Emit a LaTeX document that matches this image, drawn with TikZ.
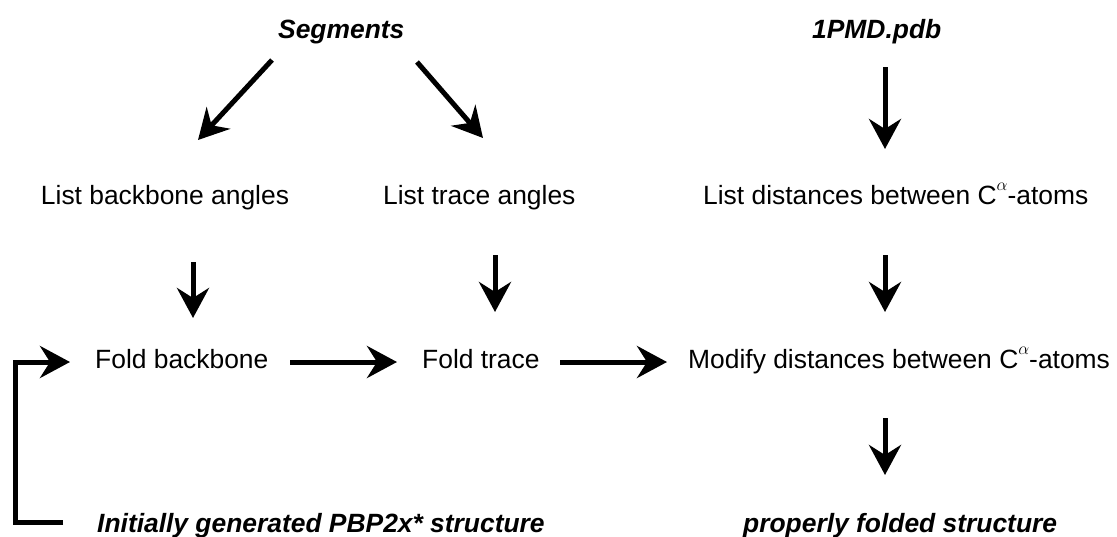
\documentclass[tikz,border=0pt]{standalone}
\usepackage{fontspec}
\setmainfont{Liberation Sans}
\usetikzlibrary{arrows.meta}
\newcommand{\calpha}{C\raisebox{0.52em}{\fontsize{19}{19}\selectfont$\alpha$}}
\begin{document}
\begin{tikzpicture}[x=1pt,y=-1pt,
  txt/.style={inner sep=0pt,font=\fontsize{26.4}{32}\selectfont},
  btxt/.style={inner sep=0pt,font=\fontsize{26.4}{32}\selectfont\bfseries\itshape},
  arr/.style={line width=5pt,-{Stealth[length=30pt,width=32pt,inset=10pt]}}]
\useasboundingbox (0,0) rectangle (1117,536);
% texts
\node[btxt,anchor=base west] (seg) at (278,38) {Segments};
\node[btxt,anchor=base west] (pmd) at (812,38) {1PMD.pdb};
\node[txt,anchor=base] (lba) at (165,204) {List backbone angles};
\node[txt,anchor=base west] (lta) at (383,204) {List trace angles};
\node[txt,anchor=base west] (ldc) at (703,204) {List distances between \calpha-atoms};
\node[txt,anchor=base west] (fb) at (95,368) {Fold backbone};
\node[txt,anchor=base west] (ft) at (422,368) {Fold trace};
\node[txt,anchor=base west] (md) at (688,368) {Modify distances between \calpha-atoms};
\node[btxt,anchor=base west] (init) at (97,532) {Initially generated PBP2x* structure};
\node[btxt,anchor=base west] (prop) at (743,532) {properly folded structure};
% arrow end points
\coordinate (s1a) at (272,60);  \coordinate (s1b) at (198,140);
\coordinate (s2a) at (417,62);  \coordinate (s2b) at (483,138);
\coordinate (p1a) at (885,67);  \coordinate (p1b) at (885,149);
\coordinate (l1a) at (193,262); \coordinate (l1b) at (193,318);
\coordinate (m1a) at (495,255); \coordinate (m1b) at (495,312);
\coordinate (r1a) at (885,255); \coordinate (r1b) at (885,312);
\coordinate (r2a) at (885,418); \coordinate (r2b) at (885,475);
\coordinate (h1a) at (290,362); \coordinate (h1b) at (397,362);
\coordinate (h2a) at (560,362); \coordinate (h2b) at (667,362);
\coordinate (fba) at (63,522);  \coordinate (fbb) at (70,362);
% connectors
\draw[arr] (s1a) -- (s1b);
\draw[arr] (s2a) -- (s2b);
\draw[arr] (p1a) -- (p1b);
\draw[arr] (l1a) -- (l1b);
\draw[arr] (m1a) -- (m1b);
\draw[arr] (r1a) -- (r1b);
\draw[arr] (r2a) -- (r2b);
\draw[arr] (h1a) -- (h1b);
\draw[arr] (h2a) -- (h2b);
\draw[arr] (fba) -- (15,522) -- (15,362) -- (fbb);
\end{tikzpicture}
\end{document}
